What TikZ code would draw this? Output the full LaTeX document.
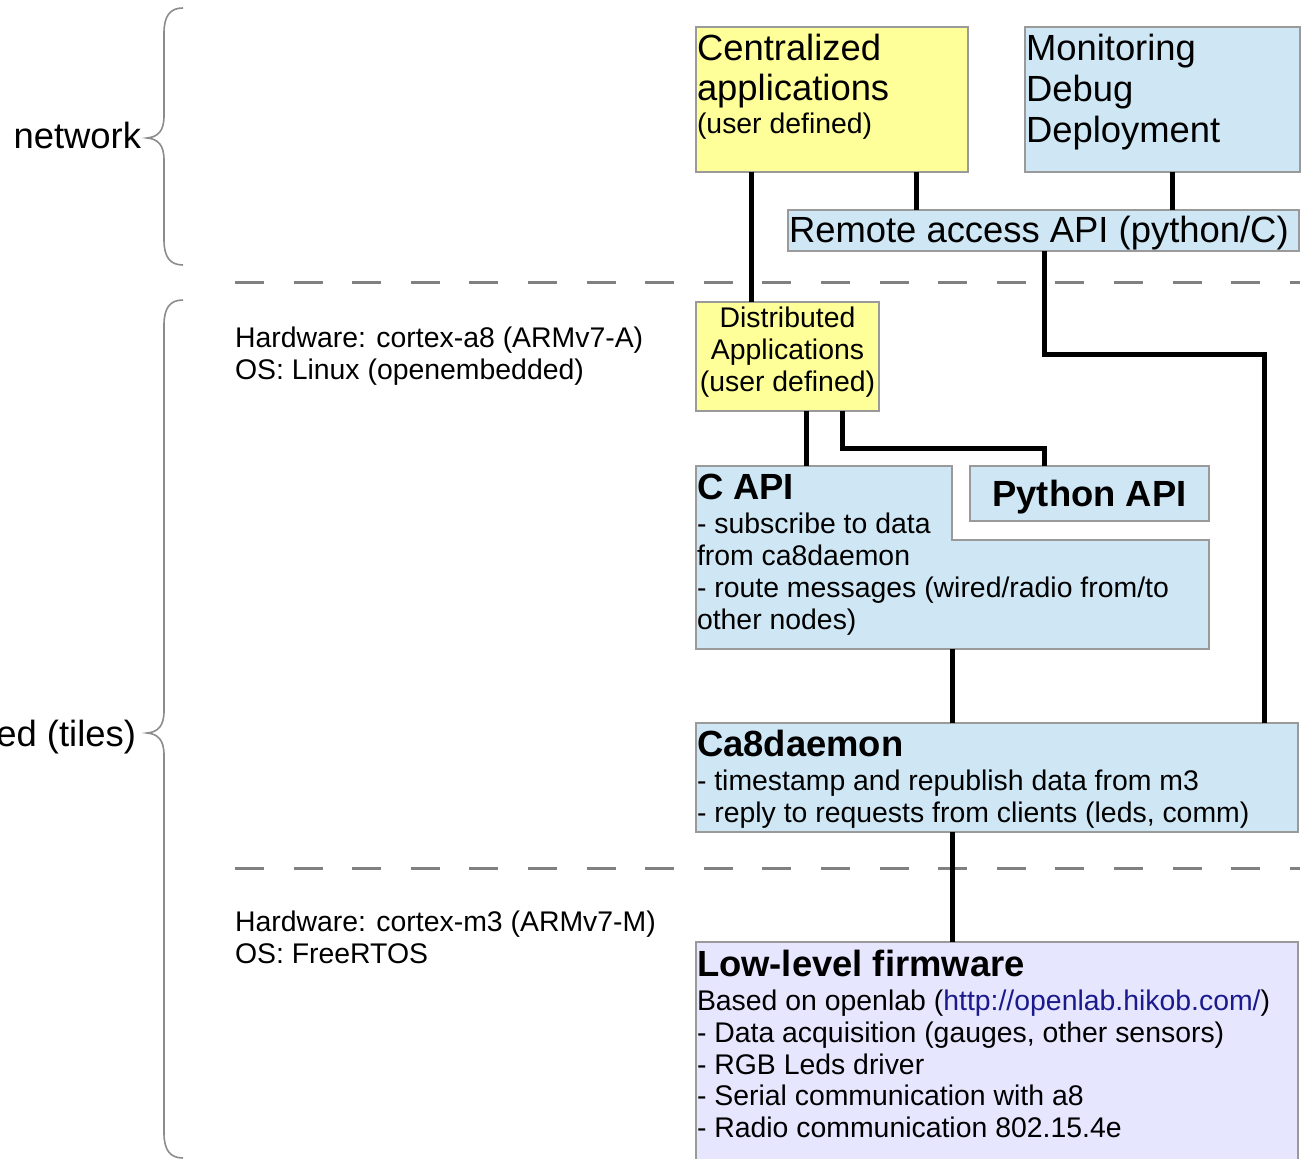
\documentclass[tikz,border=0pt]{standalone}
\usepackage{fontspec}
\setmainfont{Liberation Sans}
\usetikzlibrary{calc}
\definecolor{yel}{HTML}{FFFF99}
\definecolor{blu}{HTML}{CFE7F5}
\definecolor{lav}{HTML}{E6E6FF}
\definecolor{bord}{HTML}{9A9A9A}
\definecolor{dashc}{HTML}{808080}
\definecolor{bracec}{HTML}{8C8C8C}
\definecolor{urlc}{HTML}{1A1A8C}
\tikzset{
  box/.style={draw=bord, line width=1pt, inner sep=0pt, outer sep=0pt, anchor=north west},
  conn/.style={line width=2.5pt, black},
  sepline/.style={draw=dashc, line width=1.5pt, dash pattern=on 14.5pt off 14.8pt},
  brc/.style={draw=bracec, line width=0.8pt},
  txt/.style={inner sep=0pt, outer sep=0pt, anchor=base west},
  bigf/.style={font=\fontsize{18.2}{20.5}\selectfont},
  bigbf/.style={font=\fontsize{18.2}{20.5}\selectfont\bfseries},
  smallf/.style={font=\fontsize{14.2}{16}\selectfont},
}
\begin{document}
\begin{tikzpicture}[x=0.5pt,y=-0.5pt]
\useasboundingbox (0,0) rectangle (1307,1159);
\clip (0,0) rectangle (1307,1159);

% separators
\draw[sepline] (235,283) -- (1300,283);
\draw[sepline] (235,869) -- (1300,869);

% braces
\draw[brc] (183,8) .. controls (170,8) and (164,16) .. (164,33) -- (164,116)
  .. controls (164,131) and (158,137) .. (147,138)
  .. controls (158,139) and (164,145) .. (164,160) -- (164,240)
  .. controls (164,257) and (170,265) .. (183,265);
\draw[brc] (183,300) .. controls (170,300) and (164,308) .. (164,325) -- (164,711)
  .. controls (164,726) and (158,732) .. (147,733)
  .. controls (158,734) and (164,740) .. (164,755) -- (164,1133)
  .. controls (164,1150) and (170,1158) .. (183,1158);

\node[txt, anchor=base east, bigf] (lnet) at (141,149) {network};
\node[txt, anchor=base east, bigf] (ltiles) at (136,747) {ed (tiles)};

\node[txt, smallf] (hw1) at (235,348) {Hardware: cortex-a8 (ARMv7-A)};
\node[txt, smallf] (os1) at (235,380) {OS: Linux (openembedded)};
\node[txt, smallf] (hw2) at (235,932) {Hardware: cortex-m3 (ARMv7-M)};
\node[txt, smallf] (os2) at (235,964) {OS: FreeRTOS};

% boxes
\node[box, fill=yel, minimum width=136pt, minimum height=72.5pt] (cent) at (696,27) {};
\node[box, fill=blu, minimum width=137.5pt, minimum height=72.5pt] (mon) at (1025,27) {};
\node[box, fill=blu, minimum width=255.5pt, minimum height=20.5pt] (remote) at (788,210) {};
\node[box, fill=yel, minimum width=91.5pt, minimum height=54.5pt] (dist) at (696,302) {};
\node[box, draw=none, minimum width=256.5pt, minimum height=91.5pt] (capi) at (696,466) {};
\draw[draw=bord, line width=1pt, fill=blu] (capi.north west) -- ($(capi.north west)+(256,0)$)
  -- ($(capi.north west)+(256,74)$) -- ($(capi.north east)+(0,74)$)
  -- (capi.south east) -- (capi.south west) -- cycle;
\node[box, fill=blu, minimum width=119.5pt, minimum height=27.5pt] (py) at (970,466) {};
\node[box, fill=blu, minimum width=301pt, minimum height=54.5pt] (ca8) at (696,723) {};
\node[box, fill=lav, minimum width=301pt, minimum height=130pt] (low) at (696,942) {};

% box texts
\node[txt, bigf] (c1) at (697,61) {Centralized};
\node[txt, bigf] (c2) at (697,101) {applications};
\node[txt, smallf] (c3) at (697,134) {(user defined)};

\node[txt, bigf] (m1) at (1026,61) {Monitoring};
\node[txt, bigf] (m2) at (1026,102) {Debug};
\node[txt, bigf] (m3) at (1026,143) {Deployment};

\node[txt, bigf] (r1) at (789,243) {Remote access API (python/C)};

\node[txt, anchor=base, smallf] (d1) at (787.5,328) {Distributed};
\node[txt, anchor=base, smallf] (d2) at (787.5,360) {Applications};
\node[txt, anchor=base, smallf] (d3) at (787.5,392) {(user defined)};

\node[txt, bigbf] (a0) at (697,500) {C API};
\node[txt, smallf] (a1) at (697,534) {- subscribe to data};
\node[txt, smallf] (a2) at (697,566) {from ca8daemon};
\node[txt, smallf] (a3) at (697,598) {- route messages (wired/radio from/to};
\node[txt, smallf] (a4) at (697,630) {other nodes)};

\node[txt, anchor=base, bigbf] (p0) at (1089.5,507) {Python API};

\node[txt, bigbf] (k0) at (697,757) {Ca8daemon};
\node[txt, smallf] (k1) at (697,791) {- timestamp and republish data from m3};
\node[txt, smallf] (k2) at (697,823) {- reply to requests from clients (leds, comm)};

\node[txt, bigbf] (f0) at (697,976) {Low-level firmware};
\node[txt, smallf] (f1) at (697,1010) {Based on openlab (\textcolor{urlc}{http://openlab.hikob.com/})};
\node[txt, smallf] (f2) at (697,1042) {- Data acquisition (gauges, other sensors)};
\node[txt, smallf] (f3) at (697,1074) {- RGB Leds driver};
\node[txt, smallf] (f4) at (697,1105) {- Serial communication with a8};
\node[txt, smallf] (f5) at (697,1137) {- Radio communication 802.15.4e};

% connectors
\draw[conn] ($(cent.south west)+(55,0)$) -- ($(dist.north west)+(55,0)$);
\draw[conn] ($(cent.south west)+(220,0)$) -- ($(remote.north west)+(128,0)$);
\draw[conn] ($(mon.south west)+(147,0)$) -- ($(remote.north west)+(384,0)$);
\draw[conn] ($(remote.south west)+(256,0)$) |- ($(ca8.north west)+(568,-368)$) -- ($(ca8.north west)+(568,0)$);
\draw[conn] ($(dist.south west)+(110,0)$) -- ($(capi.north west)+(110,0)$);
\draw[conn] ($(dist.south west)+(146,0)$) |- ($(py.north west)+(74,-17)$) -- ($(py.north west)+(74,0)$);
\draw[conn] ($(capi.south west)+(256,0)$) -- ($(ca8.north west)+(256,0)$);
\draw[conn] ($(ca8.south west)+(256,0)$) -- ($(low.north west)+(256,0)$);
\end{tikzpicture}
\end{document}
